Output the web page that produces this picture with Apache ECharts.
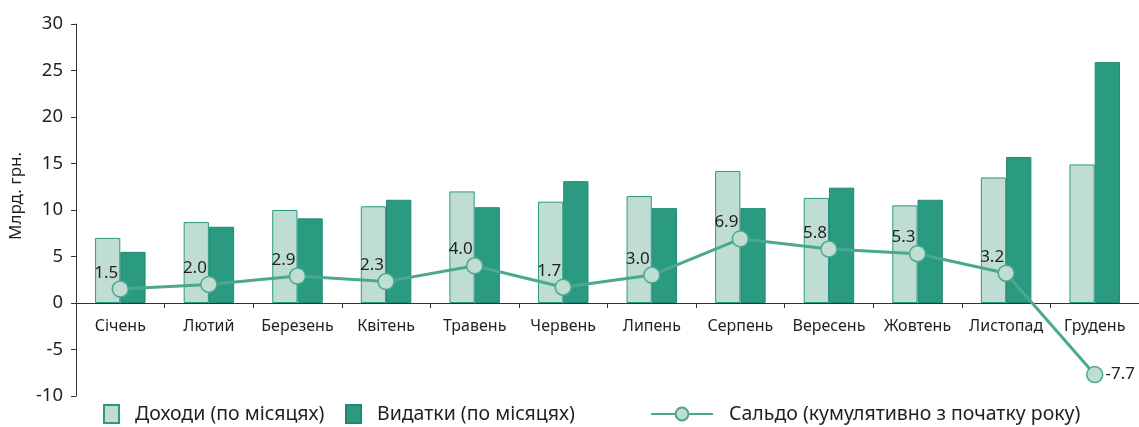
<!DOCTYPE html>
<html>
<head>
<meta charset="utf-8">
<script src="https://cdn.jsdelivr.net/npm/echarts@6/dist/echarts.min.js"></script>
<style>
  html, body { margin: 0; padding: 0; background: #fff; }
  #chart { width: 1139px; height: 427px; }
</style>
</head>
<body>
<div id="chart"></div>
<script>
const months = ['Січень', 'Лютий', 'Березень', 'Квітень', 'Травень', 'Червень',
  'Липень', 'Серпень', 'Вересень', 'Жовтень', 'Листопад', 'Грудень']
const revenue = [7.0, 8.7, 10.0, 10.4, 12.0, 10.9, 11.5, 14.2, 11.3, 10.5, 13.5, 14.9]
const spending = [5.5, 8.2, 9.1, 11.1, 10.3, 13.1, 10.2, 10.2, 12.4, 11.1, 15.7, 25.9]
const balance = [1.5, 2.0, 2.9, 2.3, 4.0, 1.7, 3.0, 6.9, 5.8, 5.3, 3.2, -7.7]

const seriesNames = ['Доходи (по місяцях)', 'Видатки (по місяцях)', 'Сальдо (кумулятивно з початку року)']

const font = 'Noto Sans'
const textColor = '#231f20'
const light = '#c0ddd4'
const dark = '#2a9b80'
const lineColor = '#4aa88e'

const chart = echarts.init(document.getElementById('chart'))

// last point gets its label on the right side
const balanceData = balance.map((v, i) => {
  if (i === balance.length - 1) {
    return { value: v, label: { position: 'right', distance: 2, offset: [0, 0] } }
  }
  return v
})

const legendBase = {
  top: 404,
  padding: 0,
  itemGap: 0,
  textStyle: { fontFamily: font, fontSize: 19.5, color: textColor, padding: [0, 0, 0, 11] },
}

chart.setOption({
  animation: false,
  textStyle: { fontFamily: font },
  grid: { left: 76, right: 0, top: 24, bottom: 31 },
  legend: [
    { ...legendBase, left: 103, data: [{ name: seriesNames[0], icon: 'rect' }], itemWidth: 15, itemHeight: 18 },
    { ...legendBase, left: 345, data: [{ name: seriesNames[1], icon: 'rect' }], itemWidth: 15, itemHeight: 18 },
    { ...legendBase, left: 650, data: [seriesNames[2]], itemWidth: 62, itemHeight: 16 },
  ],
  xAxis: {
    type: 'category',
    data: months,
    position: 'bottom',
    offset: -93,
    axisLine: { onZero: false, lineStyle: { color: '#333', width: 1 } },
    axisTick: { show: true, length: 5, lineStyle: { color: '#333' } },
    axisLabel: { interval: 0, fontFamily: font, fontSize: 16, color: textColor, margin: 15 },
  },
  yAxis: {
    type: 'value',
    min: -10,
    max: 30,
    interval: 5,
    name: 'Млрд. грн.',
    nameLocation: 'middle',
    nameGap: 46,
    nameTextStyle: { fontFamily: font, fontSize: 17, color: textColor, padding: [0, 0, 0, 28] },
    axisLine: { show: true, lineStyle: { color: '#333' } },
    axisTick: { show: true, length: 5, lineStyle: { color: '#333' } },
    axisLabel: { fontFamily: font, fontSize: 18.5, color: textColor, margin: 13 },
    splitLine: { show: false },
  },
  series: [
    {
      name: seriesNames[0],
      type: 'bar',
      data: revenue,
      barGap: '0%',
      barCategoryGap: '43%',
      itemStyle: { color: light, borderColor: dark, borderWidth: 1 },
    },
    {
      name: seriesNames[1],
      type: 'bar',
      data: spending,
      itemStyle: { color: dark, borderColor: '#1f8a70', borderWidth: 1 },
    },
    {
      name: seriesNames[2],
      type: 'line',
      data: balanceData,
      z: 5,
      symbol: 'circle',
      symbolSize: 16,
      lineStyle: { color: lineColor, width: 3 },
      itemStyle: { color: light, borderColor: lineColor, borderWidth: 1.5 },
      label: {
        show: true,
        position: 'top',
        offset: [-14, 6],
        formatter: p => p.value.toFixed(1),
        fontFamily: font,
        fontSize: 17,
        color: textColor,
      },
    },
  ],
})
</script>
</body>
</html>
